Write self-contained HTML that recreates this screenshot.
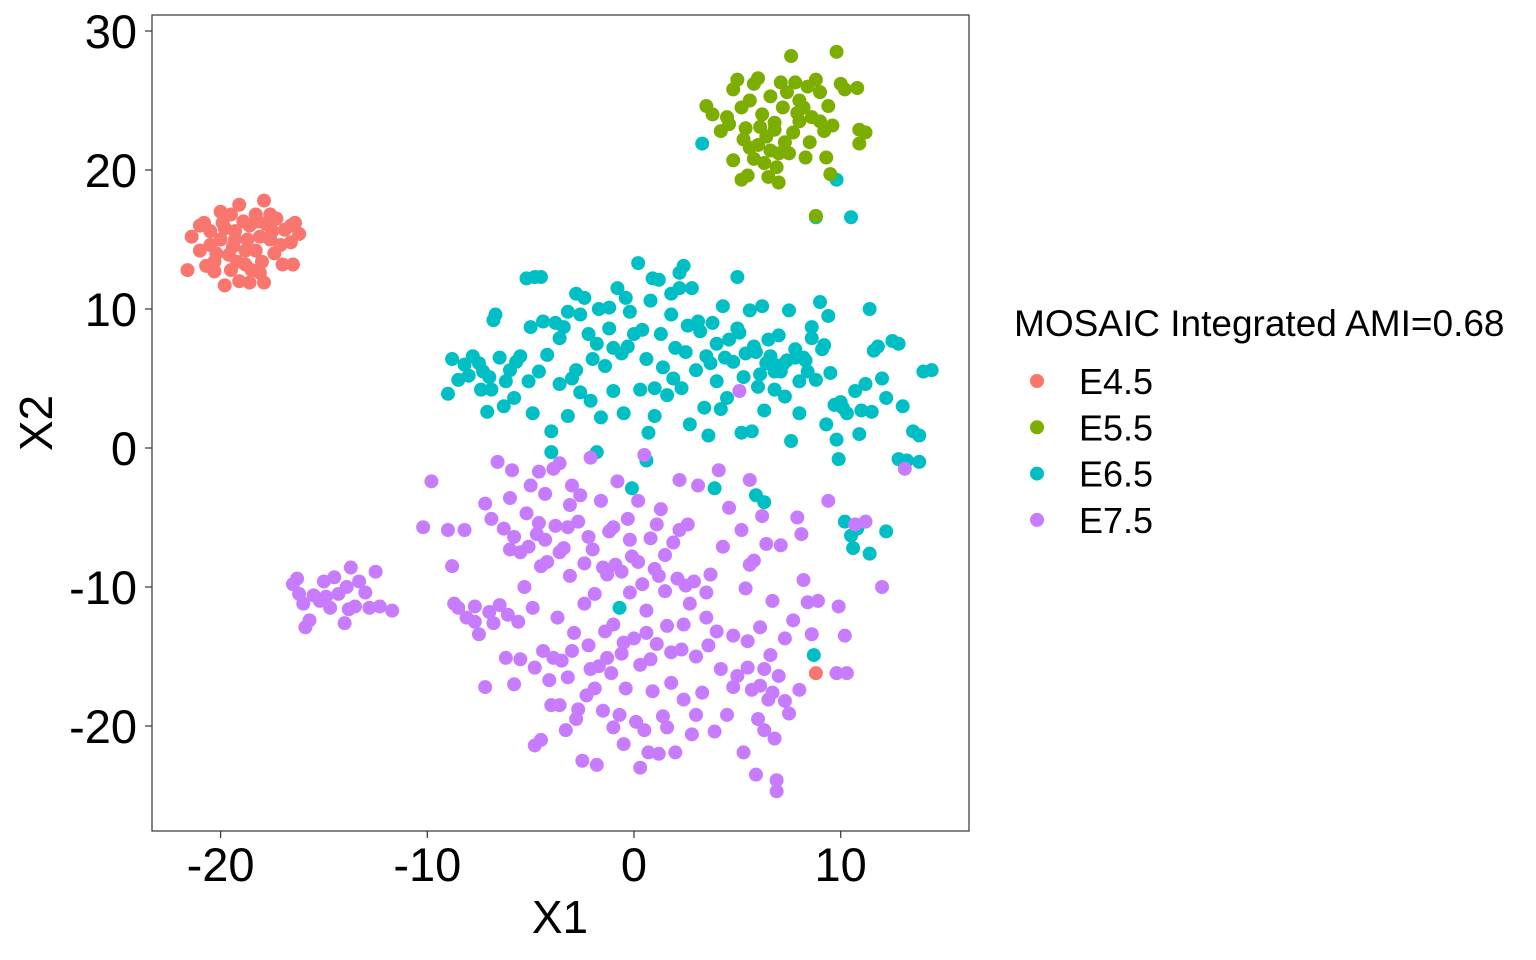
<!DOCTYPE html>
<html><head><meta charset="utf-8"><style>
html,body{margin:0;padding:0;background:#fff;}
svg{display:block;font-family:"Liberation Sans",Arial,sans-serif;}
</style></head><body>
<svg id="chart" width="1536" height="960" viewBox="0 0 1536 960">
<rect x="0" y="0" width="1536" height="960" fill="#fff"/>
<g id="points"></g>
<rect x="152" y="15" width="817" height="816" fill="none" stroke="#333" stroke-width="1.2"/>
<g id="axes"></g>
<text x="560" y="933" font-size="46" text-anchor="middle" fill="#000">X1</text>
<text transform="translate(52,423) rotate(-90)" font-size="46" text-anchor="middle" fill="#000">X2</text>
<g id="legend">
<text x="1014" y="336" font-size="37" fill="#000">MOSAIC Integrated AMI=0.68</text>
</g>
</svg>
<script>
const categories = ["E4.5","E5.5","E6.5","E7.5"];
const colors = ["#F8766D","#7CAE00","#00BFC4","#C77CFF"];
const xTicks = [-20,-10,0,10];
const yTicks = [-20,-10,0,10,20,30];
const e45 = [[-21.6,12.8],[-21.4,15.2],[-21,16],[-20.8,16.2],[-20.5,14.6],[-20.3,13.4],[-20,17],[-19.8,15.8],[-19.5,16.8],[-19.3,15],[-19.1,17.5],[-18.8,14.2],[-18.6,16],[-18.3,16.8],[-18.1,15.2],[-17.9,17.8],[-17.6,16.8],[-17.5,15.6],[-17.4,14],[-17.1,14.6],[-16.9,15.7],[-16.6,14.8],[-16.5,13.2],[-16.4,16.2],[-16.2,15.4],[-20.3,12.7],[-19.8,11.7],[-19.5,12.8],[-19.1,12],[-18.8,13.2],[-18.6,11.9],[-18.1,12.6],[-17.9,11.9],[-20,15],[-19.6,13.9],[-19.3,15.6],[-18.9,16.3],[-18.3,14.2],[-18,13.4],[-17.6,15],[-17,13.2],[-16.6,16],[-20.5,15.6],[-21,14.2],[-19.4,14.5],[-18.7,15],[-18.2,16.3],[-17.8,16.1],[-17.3,16.5],[-19.2,13.4],[-20.2,14],[-18.5,12.8],[-19.9,16.2],[-20.7,13.1],[8.8,-16.2]];
const e55 = [[3.5,24.6],[3.8,24],[4.2,22.8],[4.5,23.8],[4.8,25.8],[5,26.5],[5.2,24.5],[5.4,23],[5.6,25],[5.8,26.2],[6,26.6],[6.2,24],[6.4,22.4],[6.6,25.3],[6.8,23.4],[7,21.2],[7.2,24.5],[7.4,25.6],[7.6,28.2],[7.8,26.3],[8,25],[8.2,24.5],[8.4,26],[8.6,23.8],[8.8,26.5],[9,25.6],[9.2,22.8],[9.4,24.6],[9.6,23.2],[9.8,28.5],[10,26.2],[10.2,25.8],[10.8,25.9],[10.9,22.9],[11.2,22.7],[10.9,21.9],[4.8,20.7],[5.2,19.3],[5.5,19.6],[5.8,20.8],[6,21.8],[6.3,20.5],[6.6,21.4],[6.9,20.2],[7,19.1],[7.3,22],[7.5,21.2],[7.7,22.7],[8,23.5],[8.5,22],[9.3,20.9],[9.5,19.7],[8.8,16.7],[6.5,19.5],[5.6,21.6],[4.6,23.3],[6.8,22.9],[7.9,24.1],[9,23.5],[6.1,23.1],[5.3,22.2],[7.1,26.3],[8.3,20.9]];
const e65 = [[-9,3.9],[-8.8,6.4],[-8.5,4.9],[-8.2,6],[-8,5.2],[-7.8,6.6],[-7.5,6.1],[-7.4,4.2],[-7.1,2.6],[-7,5.1],[-6.8,9.2],[-6.7,9.6],[-6.5,6.5],[-6.3,3],[-6.2,4.8],[-6,5.6],[-5.8,3.6],[-5.5,6.6],[-5.2,12.2],[-5,8.7],[-4.8,12.3],[-4.9,2.5],[-4.6,5.5],[-4.4,9.1],[-4.2,6.7],[-4,1.2],[-4,-0.3],[-3.8,9],[-3.6,4.6],[-3.4,8.7],[-3.2,9.8],[-3,5],[-2.8,5.6],[-2.6,4],[-2.4,10.8],[-2.2,8.2],[-2,6.4],[-1.8,7.5],[-1.6,2.2],[-1.4,5.9],[-1.2,8.6],[-1.2,10.1],[-1,7.2],[-0.8,11.5],[-0.6,6.8],[-0.5,2.5],[-0.2,9.8],[0,8.2],[0.2,13.3],[0.3,4.2],[0.4,8.5],[0.6,6.4],[0.7,1.1],[0.8,10.6],[1,4.3],[1.2,12.1],[1.3,8.2],[1.4,5.8],[1.6,3.8],[1.8,9.6],[2,7.2],[2.2,12.6],[2.3,4.3],[2.5,6.9],[2.6,8.8],[2.8,11.5],[3,5.6],[3.2,8.4],[3.4,2.9],[3.5,6.6],[3.6,0.9],[3.8,9],[4,4.8],[4,7.5],[4.2,2.8],[4.3,10.2],[4.5,3.6],[4.6,7.8],[4.8,6.2],[5,8.6],[5,12.3],[5.2,1.1],[5.3,5.1],[5.4,6.8],[5.6,9.9],[5.8,7.3],[6,4.4],[6.1,5.3],[6.2,10.2],[6.3,2.7],[6.4,6.1],[6.6,6.6],[6.8,5.5],[7,8.1],[7.2,6],[7.3,3.7],[7.5,9.9],[7.6,0.5],[7.8,7.1],[8,4.8],[8,2.5],[8.2,6.5],[8.4,5.5],[8.6,8.7],[8.8,4.9],[9,10.5],[9.2,7.4],[9.3,1.7],[9.5,5.4],[9.7,3.1],[9.8,0.6],[9.9,-0.8],[10,3.3],[10.3,2.5],[10.7,4.1],[10.9,1],[11.2,4.6],[11.4,10],[11.5,2.6],[11.6,7],[11.8,7.3],[12,5],[12.2,3.6],[12.5,7.7],[12.8,-0.8],[13,3],[13.2,-0.9],[13.5,1.2],[13.8,-1],[14,5.5],[14.4,5.6],[13.8,0.9],[-3.2,2.3],[-2.8,11.1],[1,2.3],[2.7,1.7],[5.7,1.2],[-1.8,-0.3],[0.6,-0.9],[3.9,-2.9],[5.9,-3.4],[6.3,-3.9],[-0.1,-2.9],[3.3,21.9],[9.8,19.3],[10.5,16.6],[8.8,16.6],[-0.7,-11.5],[8.7,-14.9],[10.2,-5.3],[10.5,-6.3],[10.8,-5.8],[10.6,-7.2],[11.4,-7.6],[12.2,-6],[-5.7,6.2],[-6.9,4.2],[-2.1,3.4],[6.8,4.2],[8.6,7.9],[-0.3,7.3],[2.2,11.5],[7.4,6.3],[6.5,7.8],[-4.5,12.3],[-2.6,9.6],[-1.7,10],[-0.4,10.8],[0.9,12.2],[1.8,11.1],[2.4,13.1],[3.7,6.1],[4.4,6.5],[5.1,8.3],[5.9,6.9],[6.7,6.1],[7.1,5.5],[7.8,6.5],[8.3,6.3],[9.1,7.1],[9.4,9.5],[10.1,2.9],[11,2.7],[12.8,7.5],[-7.3,5.5],[-5.1,4.8],[-3.6,7.9],[-1,4.1],[1.9,5],[3.1,9.1]];
const e75 = [[-16.5,-9.8],[-16.2,-10.5],[-16,-11.2],[-15.9,-12.9],[-15.7,-12.4],[-15.5,-10.6],[-15.2,-11],[-15,-9.6],[-14.7,-11.5],[-14.5,-9.3],[-14.3,-10.5],[-14,-12.6],[-13.9,-10],[-13.7,-8.6],[-13.5,-11.4],[-13.3,-9.6],[-13,-10.4],[-12.8,-11.5],[-12.5,-8.9],[-12.3,-11.4],[-11.7,-11.7],[-16.3,-9.4],[-14.9,-10.7],[-13.8,-11.6],[-9.8,-2.4],[-10.2,-5.7],[-9,-5.9],[-8.8,-8.5],[-8.7,-11.2],[-8.2,-5.9],[-8.1,-12.2],[-7.7,-11.4],[-7.5,-13.4],[-7.2,-4],[-7.2,-17.2],[-6.9,-5.1],[-6.8,-12.6],[-6.6,-1],[-6.5,-11.3],[-6.3,-5.8],[-6.2,-15.1],[-6,-3.6],[-5.9,-1.6],[-5.8,-17],[-5.6,-12.5],[-5.5,-7.5],[-5.3,-10],[-5.2,-4.7],[-5,-2.7],[-4.9,-11.5],[-4.8,-21.4],[-4.7,-6.2],[-4.5,-21],[-4.4,-14.6],[-4.3,-3.3],[-4.2,-8.2],[-4.1,-16.7],[-4,-18.5],[-3.8,-5.6],[-3.7,-12.2],[-3.6,-1.1],[-3.5,-15.3],[-3.4,-7.2],[-3.3,-20.3],[-3.2,-16.5],[-3.1,-9.2],[-3,-2.7],[-2.9,-13.3],[-2.8,-19.5],[-2.7,-5.3],[-2.5,-22.5],[-2.4,-11.2],[-2.3,-17.8],[-2.2,-14.2],[-2.1,-0.7],[-2,-7.3],[-1.9,-10.5],[-1.8,-22.8],[-1.7,-15.7],[-1.6,-3.8],[-1.5,-18.9],[-1.4,-13.2],[-1.3,-9.1],[-1.2,-6],[-1.1,-16.2],[-1,-12.7],[-0.9,-8.4],[-0.8,-2.4],[-0.6,-14.8],[-0.5,-21.3],[-0.4,-17.3],[-0.3,-5.1],[-0.2,-10.4],[-0.1,-7.8],[0,-13.7],[0.1,-19.7],[0.2,-3.8],[0.3,-15.6],[0.4,-9.8],[0.5,-0.5],[0.6,-11.7],[0.7,-21.9],[0.8,-6.5],[0.9,-17.5],[1,-8.7],[1.1,-14.1],[1.2,-22],[1.3,-4.4],[1.4,-19.3],[1.5,-10.3],[1.6,-12.8],[1.8,-16.9],[1.9,-6.8],[2,-21.9],[2.1,-9.4],[2.2,-2.3],[2.3,-14.5],[2.4,-18.1],[2.6,-5.5],[2.7,-11.2],[2.8,-20.6],[2.9,-9.6],[3,-15],[3.1,-2.7],[3.3,-17.6],[3.5,-12.2],[3.7,-9.1],[3.9,-20.4],[4,-13.2],[4.2,-15.9],[4.3,-7.1],[4.5,-19.2],[4.6,-4.3],[4.8,-13.5],[5,-16.4],[5.2,-5.9],[5.3,-21.9],[5.4,-10.1],[5.5,-13.9],[5.6,-2.3],[5.7,-17.4],[5.8,-8.1],[5.9,-23.5],[6,-19.5],[6.1,-12.9],[6.2,-4.9],[6.3,-15.9],[6.4,-6.9],[6.5,-18.1],[6.7,-11],[6.8,-20.9],[6.9,-24.7],[7,-16.4],[7.1,-7],[7.3,-13.7],[7.5,-19.1],[7.7,-12.4],[7.9,-5],[8,-17.4],[8.2,-9.5],[8.4,-11.1],[8.6,-13.4],[8.9,-11],[9.4,-3.8],[9.8,-16.2],[9.9,-11.4],[10.2,-13.5],[10.3,-16.2],[10.7,-5.5],[11.2,-5.3],[12,-10],[-1,-5.7],[-4.5,-8.5],[-3.2,-5.7],[0.8,-15.2],[3.5,-10.4],[-6,-7.3],[-7,-11.8],[-5.5,-15.2],[1.5,-7.7],[4.1,-1.6],[-2.6,-3.4],[-1.9,-17.3],[6.3,-20.3],[6.9,-23.9],[5.1,4.1],[13.1,-1.5],[8.1,-6.2],[-4.6,-5.4],[2.4,-12.7],[-0.7,-19.2],[6.7,-17.6],[-3.9,-1.5],[0.3,-23],[-5.8,-6.4],[-5.1,-7.1],[-4.3,-6.6],[-3.6,-7.5],[-2.4,-8.3],[-1.5,-8.6],[-0.6,-8.9],[0.2,-8.2],[1.2,-9.2],[2.5,-9.9],[-4.8,-15.8],[-3.9,-15.1],[-3,-14.6],[-2.1,-15.9],[-1.3,-15.1],[-0.5,-14],[0.6,-13.3],[1.8,-14.7],[3.6,-14.2],[4.8,-17.2],[5.5,-15.8],[6.1,-17.1],[6.6,-14.9],[7.3,-18.2],[-4.6,-1.7],[-3.1,-4.1],[-2.2,-6.4],[-0.2,-6.6],[1.1,-5.5],[2.2,-5.9],[-7.7,-12.5],[-6.1,-12],[-3.6,-18.5],[-2.7,-18.8],[-1,-20.1],[0.5,-20.3],[1.6,-20.1],[3,-19.2],[-8.5,-11.5],[5.6,-8.4]];

const NS = "http://www.w3.org/2000/svg";
function xScale(v){ return 634 + (v - 0) * 20.67; }
function yScale(v){ return 448 - v * 13.9; }

const ptsG = document.getElementById("points");
const seriesList = [[e65,2],[e75,3],[e55,1],[e45,0]];
seriesList.forEach(function(s){
  const data = s[0], ci = s[1];
  data.forEach(function(d){
    const c = document.createElementNS(NS,"circle");
    c.setAttribute("cx", xScale(d[0]));
    c.setAttribute("cy", yScale(d[1]));
    c.setAttribute("r", 7);
    c.setAttribute("fill", colors[ci]);
    
    
    ptsG.appendChild(c);
  });
});

const axG = document.getElementById("axes");
xTicks.forEach(function(t){
  const px = xScale(t);
  const l = document.createElementNS(NS,"line");
  l.setAttribute("x1",px); l.setAttribute("x2",px);
  l.setAttribute("y1",831); l.setAttribute("y2",838);
  l.setAttribute("stroke","#333"); l.setAttribute("stroke-width","1.2");
  
  
  axG.appendChild(l);
  const tx = document.createElementNS(NS,"text");
  tx.setAttribute("x",px); tx.setAttribute("y",881);
  tx.setAttribute("font-size","47"); tx.setAttribute("text-anchor","middle");
  tx.textContent = t;
  
  
  axG.appendChild(tx);
});
yTicks.forEach(function(t){
  const py = yScale(t);
  const l = document.createElementNS(NS,"line");
  l.setAttribute("x1",145); l.setAttribute("x2",152);
  l.setAttribute("y1",py); l.setAttribute("y2",py);
  l.setAttribute("stroke","#333"); l.setAttribute("stroke-width","1.2");
  
  
  axG.appendChild(l);
  const tx = document.createElementNS(NS,"text");
  tx.setAttribute("x",137); tx.setAttribute("y",py+17);
  tx.setAttribute("font-size","47"); tx.setAttribute("text-anchor","end");
  tx.textContent = t;
  
  
  axG.appendChild(tx);
});

const lg = document.getElementById("legend");
categories.forEach(function(cat,i){
  const cy = 381 + i*46.3;
  const c = document.createElementNS(NS,"circle");
  c.setAttribute("cx",1037); c.setAttribute("cy",cy); c.setAttribute("r",7);
  c.setAttribute("fill",colors[i]);
  
  
  lg.appendChild(c);
  const tx = document.createElementNS(NS,"text");
  tx.setAttribute("x",1079); tx.setAttribute("y",cy+13);
  tx.setAttribute("font-size","36");
  tx.textContent = cat;
  
  
  lg.appendChild(tx);
});
</script>
</body></html>
